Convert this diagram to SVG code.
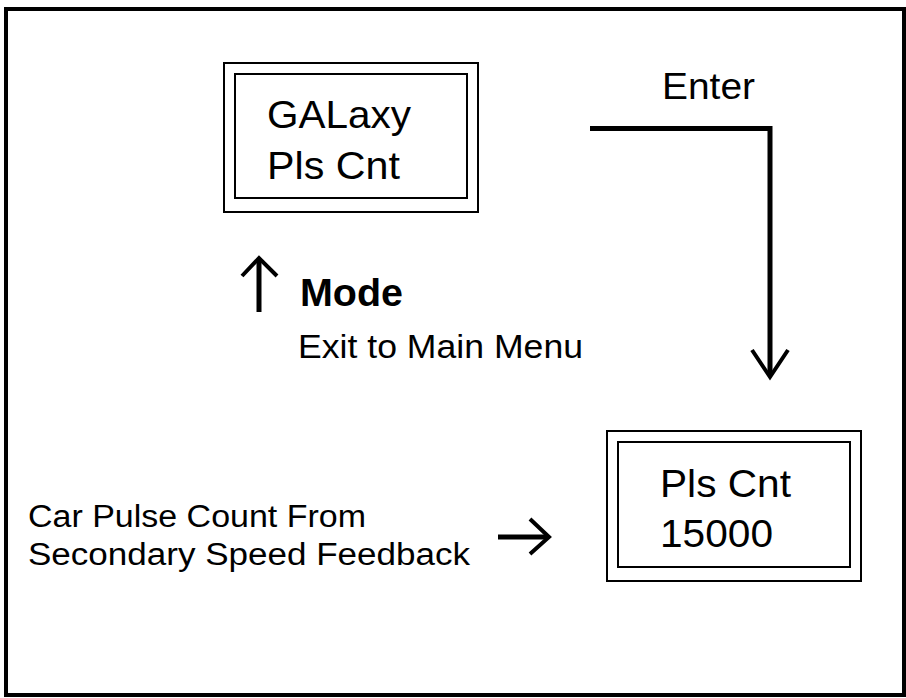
<svg xmlns="http://www.w3.org/2000/svg" width="906" height="698" viewBox="0 0 906 698">
<style>
.box{fill:none;stroke:#000;stroke-width:2}
.t{font-family:"Liberation Sans",Arial,sans-serif;fill:#000}
.big{font-size:39px}
.small{font-size:31px}
.line{fill:none;stroke:#000;stroke-width:5}
.head{fill:none;stroke:#000;stroke-width:4;stroke-linecap:butt;stroke-linejoin:miter}
</style>
<rect x="0" y="0" width="906" height="698" fill="#fff"/>
<rect x="6" y="9" width="898" height="686" fill="none" stroke="#000" stroke-width="4"/>
<g id="node-galaxy">
<rect class="box" x="224" y="63" width="254" height="149"/>
<rect class="box" x="235" y="74" width="232" height="124"/>
<text class="t big" x="267" y="128" textLength="144" lengthAdjust="spacingAndGlyphs">GALaxy</text>
<text class="t big" x="267" y="179" textLength="133" lengthAdjust="spacingAndGlyphs">Pls Cnt</text>
</g>
<g id="node-plscnt">
<rect class="box" x="607" y="431" width="254" height="150"/>
<rect class="box" x="618" y="442" width="232" height="125"/>
<text class="t big" x="660" y="497" textLength="131" lengthAdjust="spacingAndGlyphs">Pls Cnt</text>
<text class="t big" x="660" y="547" textLength="113" lengthAdjust="spacingAndGlyphs">15000</text>
</g>
<g id="label-mode">
<text class="t" x="300" y="306" font-size="38" font-weight="bold" textLength="103" lengthAdjust="spacingAndGlyphs">Mode</text>
<text class="t" x="298" y="358" font-size="34" textLength="285" lengthAdjust="spacingAndGlyphs">Exit to Main Menu</text>
</g>
<g id="label-input">
<text class="t small" x="28" y="527" textLength="338" lengthAdjust="spacingAndGlyphs">Car Pulse Count From</text>
<text class="t small" x="28" y="565" textLength="442" lengthAdjust="spacingAndGlyphs">Secondary Speed Feedback</text>
</g>
<g id="connectors">
<text class="t" x="662" y="99" font-size="37" textLength="93" lengthAdjust="spacingAndGlyphs">Enter</text>
<polyline class="line" points="590,128.5 770,128.5 770,376"/>
<polyline class="head" points="752,350 770,377 788,350"/>
<line class="line" x1="259" y1="260" x2="259" y2="312"/>
<polyline class="head" points="242,276 259,258 277,276"/>
<line class="line" x1="498" y1="537" x2="547" y2="537"/>
<polyline class="head" points="530,519 549,537 530,554"/>
</g>
</svg>
